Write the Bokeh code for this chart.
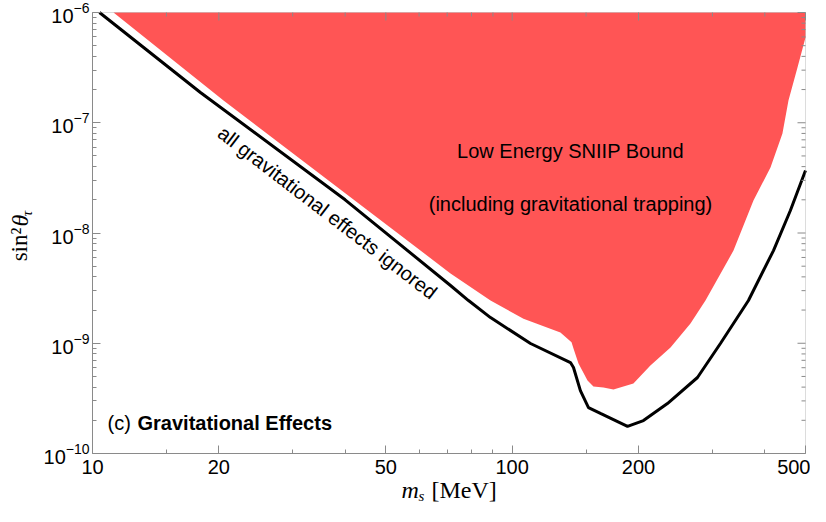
import math
from bokeh.plotting import figure
from bokeh.models import Label, FixedTicker, PrintfTickFormatter, BoxAnnotation
from bokeh.embed import file_html
from bokeh.resources import INLINE

# ---- data ----
x_ticks = [10, 20, 50, 100, 200, 500]
x_minor = [15, 30, 40, 60, 70, 80, 90, 150, 300, 400]
y_decades = [-10, -9, -8, -7, -6]
y_mantissas = [2, 3, 4, 5, 6, 7, 8, 9]

# black curve: all gravitational effects ignored
black_m = [10.39, 18.08, 40.0, 71.3, 78.7, 88.8, 110.6, 137.7, 140.0, 145.4, 152.0,
           162.3, 188.3, 205.5, 234.4, 276.4, 313.5, 365.6, 419.4, 460.2, 500.0]
black_s = [1.0e-6, 1.88e-7, 2.0e-8, 3.34e-9, 2.44e-9, 1.71e-9, 9.95e-10, 6.68e-10, 6.03e-10,
           3.72e-10, 2.61e-10, 2.31e-10, 1.76e-10, 1.99e-10, 2.84e-10, 4.89e-10, 9.95e-10,
           2.44e-9, 6.93e-9, 1.60e-8, 3.69e-8]

# red region: low energy SNIIP bound (including gravitational trapping)
red_m = [11.22, 500.0, 500.0, 478.5, 455.4, 440.6, 412.6, 375.8, 336.8, 288.8, 266.0,
         238.4, 213.5, 194.5, 174.3, 165.0, 156.2, 151.2, 143.9, 140.0, 138.5, 130.3,
         106.4, 88.8, 71.3, 20.52]
red_s = [1.0e-6, 1.0e-6, 5.93e-7, 3.17e-7, 1.59e-7, 7.98e-8, 3.93e-8, 1.97e-8, 6.93e-9,
         2.44e-9, 1.51e-9, 9.14e-10, 6.28e-10, 4.32e-10, 3.80e-10, 3.97e-10, 4.06e-10,
         4.59e-10, 6.55e-10, 8.95e-10, 1.02e-9, 1.25e-9, 1.67e-9, 2.44e-9, 4.30e-9, 1.59e-7]

XR = (10, 500)
YR = (1e-10, 1e-6)

# plot box placement in canvas pixels (the frame itself fills the canvas)
FL, FR, FT, FB = 92, 805, 12, 453
W, H = 810, 506

LX0, LX1 = math.log10(XR[0]), math.log10(XR[1])
LY0, LY1 = math.log10(YR[0]), math.log10(YR[1])
PPX = (FR - FL) / (LX1 - LX0)   # pixels per decade (x)
PPY = (FB - FT) / (LY1 - LY0)   # pixels per decade (y)

def dx(px):
    return 10 ** (LX0 + (px - FL) / PPX)

def dy(py):
    return 10 ** (LY1 - (py - FT) / PPY)

x_full = (dx(0), dx(W))
y_full = (dy(H), dy(0))

p = figure(width=W, height=H, x_axis_type="log", y_axis_type="log",
           x_range=x_full, y_range=y_full, output_backend="svg", toolbar_location=None,
           min_border_left=0, min_border_right=0, min_border_top=0, min_border_bottom=0)
p.grid.visible = False
AX = "#8a8a8a"
p.outline_line_color = None
p.background_fill_color = "white"
p.border_fill_color = "white"

SANS = "Liberation Sans"
SERIF = "Liberation Serif"

y_major = [10.0 ** d for d in y_decades]
y_minor = [m * 10.0 ** d for d in y_decades[:-1] for m in y_mantissas]

p.xaxis.ticker = FixedTicker(ticks=x_ticks, minor_ticks=x_minor)
p.xaxis.formatter = PrintfTickFormatter(format="%d")
p.yaxis.ticker = FixedTicker(ticks=y_major, minor_ticks=y_minor)
p.xaxis.fixed_location = YR[0]
p.yaxis.fixed_location = XR[0]
p.xaxis.bounds = XR
p.yaxis.bounds = YR

for ax in (p.xaxis[0], p.yaxis[0]):
    ax.axis_line_color = AX
    ax.major_tick_line_color = AX
    ax.minor_tick_line_color = AX
    ax.major_tick_in = 8
    ax.major_tick_out = 0
    ax.minor_tick_in = 4
    ax.minor_tick_out = 0
    ax.major_label_text_font = SANS
    ax.major_label_text_font_size = "20px"
    ax.major_label_text_color = "black"
p.xaxis.major_label_standoff = 6
p.yaxis.major_label_standoff = 3

p.patch(red_m, red_s, fill_color="#FF5555", line_color=None)
p.line(black_m, black_s, line_color="black", line_width=3)

# plot box and tick marks on its top and right edges
p.add_layout(BoxAnnotation(left=XR[0], right=XR[1], bottom=YR[0], top=YR[1],
                           fill_alpha=0, line_color=AX, line_width=1))
p.ray(x=x_ticks, y=[YR[1]] * len(x_ticks), length=8, length_units="screen",
      angle=-90, angle_units="deg", line_color=AX, line_width=1)
p.ray(x=x_minor, y=[YR[1]] * len(x_minor), length=4, length_units="screen",
      angle=-90, angle_units="deg", line_color=AX, line_width=1)
p.ray(x=[XR[1]] * len(y_major), y=y_major, length=8, length_units="screen",
      angle=180, angle_units="deg", line_color=AX, line_width=1)
p.ray(x=[XR[1]] * len(y_minor), y=y_minor, length=4, length_units="screen",
      angle=180, angle_units="deg", line_color=AX, line_width=1)

def lab(px, py, text, size, **kw):
    kw.setdefault("text_font", SANS)
    kw.setdefault("text_align", "left")
    kw.setdefault("text_baseline", "middle")
    p.add_layout(Label(x=dx(px), y=dy(py), text=text, text_font_size=size,
                       text_color="black", **kw))

# text annotations
lab(570, 150, "Low Energy SNIIP Bound", "20px", text_align="center")
lab(570, 203, "(including gravitational trapping)", "20px", text_align="center")
lab(327, 212, "all gravitational effects ignored", "20px", text_align="center",
    angle=-37.5, angle_units="deg")
lab(107, 422, "(c)", "20px")
lab(137, 422, "Gravitational Effects", "20px", text_font_style="bold")

# x axis label: m_s [MeV]
lab(401, 489, "m", "24px", text_font=SERIF, text_font_style="italic")
lab(418, 495, "s", "15px", text_font=SERIF, text_font_style="italic")
lab(431, 489, "[MeV]", "24px", text_font=SERIF)

# y axis label: sin^2 theta_tau (centred pieces, rotated)
lab(19, 244, "sin²", "23px", text_font=SERIF, text_align="center",
    angle=90, angle_units="deg")
lab(19, 220, "θ", "24px", text_font=SERIF, text_font_style="italic", text_align="center",
    angle=90, angle_units="deg")
lab(26, 213, "τ", "15px", text_font=SERIF, text_font_style="italic", text_align="center",
    angle=90, angle_units="deg")

open("out.html", "w").write(file_html(p, INLINE))
